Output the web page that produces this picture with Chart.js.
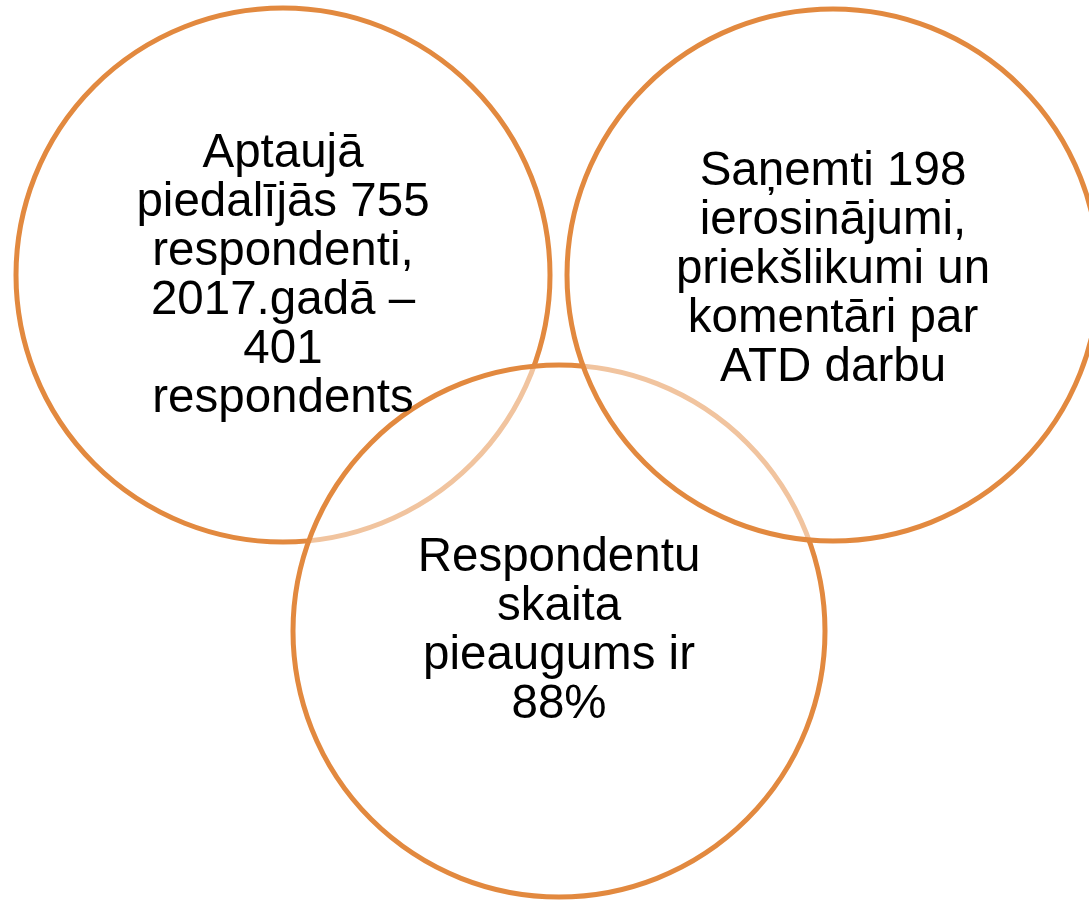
<!DOCTYPE html>
<html>
<head>
<meta charset="utf-8">
<script src="https://cdn.jsdelivr.net/npm/chart.js@4"></script>
<style>
	html, body { margin: 0; padding: 0; background: #fff; }
	#wrap { width: 1089px; height: 900px; position: relative; }
</style>
</head>
<body>
<div id="wrap"><canvas id="venn"></canvas></div>
<script>
// circles of the diagram (drawing order: left, bottom, right)
const circleNames = ['Aptauja', 'Pieaugums', 'Ierosinajumi'];
const circleX = [283, 559, 833];
const circleY = [275, 631, 275];
const circleR = [267, 266, 266];

// text inside each circle, line by line
const circleText = [
	['Aptaujā', 'piedalījās 755', 'respondenti,', '2017.gadā –', '401', 'respondents'],
	['Respondentu', 'skaita', 'pieaugums ir', '88%'],
	['Saņemti 198', 'ierosinājumi,', 'priekšlikumi un', 'komentāri par', 'ATD darbu']
];
const textShiftY = [14, 13, 8];

const orange = '#E2893F';

/* ---------- text plugin ---------- */
const vennText = {
	id: 'vennText',
	afterDatasetsDraw(chart) {
		const ctx = chart.ctx;
		const xs = chart.scales.x, ys = chart.scales.y;
		const lh = 49;
		ctx.save();
		ctx.fillStyle = '#000';
		ctx.font = '47.5px "Liberation Sans", Arial, sans-serif';
		ctx.textAlign = 'center';
		ctx.textBaseline = 'alphabetic';
		circleText.forEach((lines, i) => {
			const cx = xs.getPixelForValue(circleX[i]);
			const cy = ys.getPixelForValue(circleY[i]) + textShiftY[i];
			const first = cy - (lines.length - 1) / 2 * lh;
			lines.forEach((t, k) => ctx.fillText(t, cx, first + k * lh));
		});
		ctx.restore();
	}
};

new Chart(document.getElementById('venn'), {
	type: 'bubble',
	data: {
		labels: circleNames,
		datasets: [{
			data: circleX.map((x, i) => ({ x: x, y: circleY[i], r: circleR[i] })),
			backgroundColor: 'rgba(255,255,255,0.5)',
			borderColor: orange,
			borderWidth: 5,
			hoverRadius: 0,
			clip: false
		}]
	},
	options: {
		responsive: true,
		maintainAspectRatio: false,
		animation: false,
		events: [],
		layout: { padding: 0, autoPadding: false },
		plugins: { legend: { display: false }, tooltip: { enabled: false } },
		scales: {
			x: { type: 'linear', min: 0, max: 1089, display: false },
			y: { type: 'linear', min: 0, max: 900, reverse: true, display: false }
		}
	},
	plugins: [vennText]
});
</script>
</body>
</html>
